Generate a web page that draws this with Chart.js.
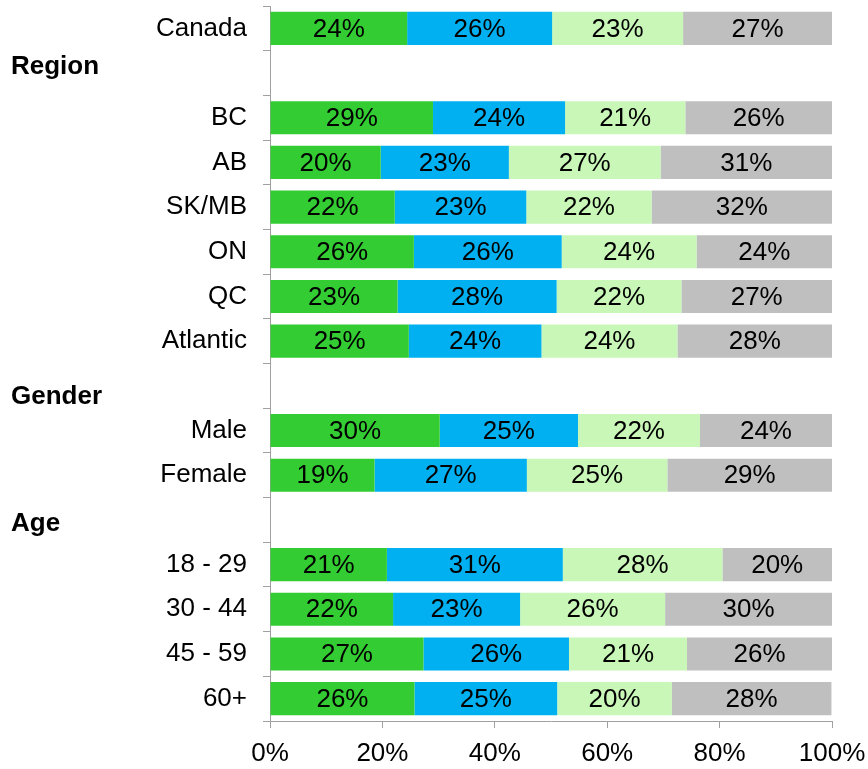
<!DOCTYPE html>
<html>
<head>
<meta charset="utf-8">
<script src="https://cdn.jsdelivr.net/npm/chart.js@4.4.1/dist/chart.umd.min.js"></script>
<style>
  html, body { margin: 0; padding: 0; background: #fff; }
  #wrap { width: 868px; height: 769px; position: relative; }
</style>
</head>
<body>
<div id="wrap"><canvas id="surveyChart"></canvas></div>
<script>
// Rows (blank rows hold the group headings)
const categories = ['Canada', '', 'BC', 'AB', 'SK/MB', 'ON', 'QC', 'Atlantic', '', 'Male', 'Female', '', '18 - 29', '30 - 44', '45 - 59', '60+'];
const groupHeadings = ['', 'Region', '', '', '', '', '', '', 'Gender', '', '', 'Age', '', '', '', ''];

// Segment values (% of row)
const seriesA = [24.4, null, 29.0, 19.7, 22.2, 25.6, 22.7, 24.7, null, 30.2, 18.6, null, 20.8, 21.9, 27.3, 25.7];
const seriesB = [25.8, null, 23.5, 22.8, 23.4, 26.3, 28.3, 23.6, null, 24.6, 27.1, null, 31.3, 22.6, 25.9, 25.4];
const seriesC = [23.3, null, 21.4, 27.0, 22.3, 24.0, 22.2, 24.2, null, 21.7, 25.0, null, 28.4, 25.8, 21.0, 20.4];
const seriesD = [26.5, null, 26.1, 30.5, 32.1, 24.1, 26.8, 27.5, null, 23.5, 29.3, null, 19.5, 29.7, 25.8, 28.4];

const xTicks = [0, 20, 40, 60, 80, 100];

const FONT = '"Liberation Sans", Arial, sans-serif';

// percent labels in the middle of each segment
const barLabels = {
    id: 'barLabels',
    afterDatasetsDraw(chart) {
        const ctx = chart.ctx;
        ctx.save();
        ctx.font = '26px ' + FONT;
        ctx.fillStyle = '#000';
        ctx.textAlign = 'center';
        ctx.textBaseline = 'middle';
        chart.data.datasets.forEach((ds, i) => {
            const meta = chart.getDatasetMeta(i);
            meta.data.forEach((bar, j) => {
                const v = ds.data[j];
                if (v == null) return;
                ctx.fillText(Math.round(v) + '%', (bar.x + bar.base) / 2, bar.y + 1);
            });
        });
        ctx.restore();
    }
};

// bold group headings at the far left
const headingOffsets = { Region: -6, Gender: 11, Age: 4 };
const groupLabels = {
    id: 'groupLabels',
    afterDraw(chart) {
        const ctx = chart.ctx;
        const y = chart.scales.y;
        ctx.save();
        ctx.font = 'bold 26px ' + FONT;
        ctx.fillStyle = '#000';
        ctx.textAlign = 'left';
        ctx.textBaseline = 'middle';
        groupHeadings.forEach((h, i) => {
            if (!h) return;
            ctx.fillText(h, 11, y.getPixelForValue(i) + (headingOffsets[h] || 0));
        });
        ctx.restore();
    }
};

const ctx = document.getElementById('surveyChart').getContext('2d');
new Chart(ctx, {
    type: 'bar',
    data: {
        labels: categories,
        datasets: [
            { label: 'A', data: seriesA, backgroundColor: '#33CC33' },
            { label: 'B', data: seriesB, backgroundColor: '#00B0F0' },
            { label: 'C', data: seriesC, backgroundColor: '#C8F7B8' },
            { label: 'D', data: seriesD, backgroundColor: '#BFBFBF' }
        ]
    },
    options: {
        indexAxis: 'y',
        responsive: true,
        maintainAspectRatio: false,
        animation: false,
        layout: { padding: { top: 6, right: 36, left: 0, bottom: 0 } },
        datasets: {
            bar: { barPercentage: 0.74, categoryPercentage: 1.0, borderWidth: 0 }
        },
        plugins: {
            legend: { display: false },
            tooltip: { enabled: false }
        },
        scales: {
            x: {
                stacked: true,
                min: 0,
                max: 100,
                afterBuildTicks: (s) => { s.ticks = xTicks.map(v => ({ value: v })); },
                afterFit: (s) => { s.height = 48; s.paddingLeft = 0; s.paddingRight = 0; },
                grid: { drawOnChartArea: false, tickLength: 7, color: '#A0A0A0' },
                border: { display: true, color: '#A0A0A0', width: 1 },
                ticks: {
                    color: '#000',
                    padding: 10,
                    maxRotation: 0,
                    font: { family: FONT, size: 26 },
                    callback: (v) => v + '%'
                }
            },
            y: {
                stacked: true,
                afterFit: (s) => { s.width = 270; s.paddingTop = 0; s.paddingBottom = 0; },
                grid: { drawOnChartArea: false, tickLength: 7, offset: true, color: '#A0A0A0' },
                border: { display: true, color: '#A0A0A0', width: 1 },
                ticks: {
                    color: '#000',
                    padding: 16,
                    autoSkip: false,
                    font: { family: FONT, size: 26 }
                }
            }
        }
    },
    plugins: [barLabels, groupLabels]
});
</script>
</body>
</html>
